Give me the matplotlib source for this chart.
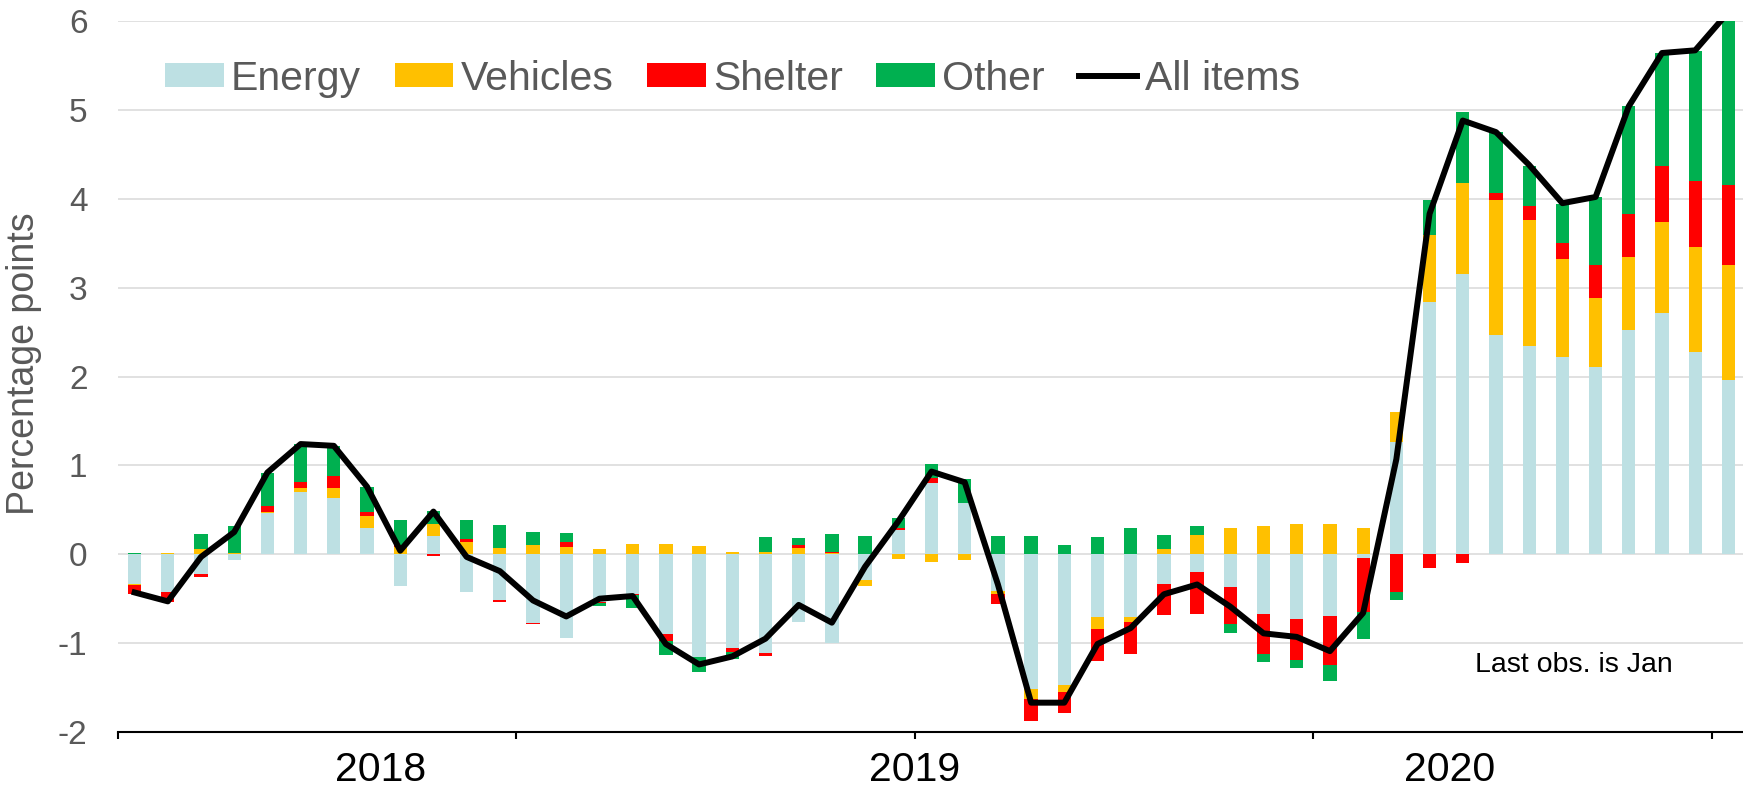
import numpy as np
import matplotlib
matplotlib.use("Agg")
import matplotlib.pyplot as plt

plt.rcParams['font.family'] = ['Liberation Sans', 'DejaVu Sans']
plt.rcParams['axes.unicode_minus'] = False

# contributions, percentage points, 49 months (last obs. Jan)
energy = [-0.33, -0.42, -0.22, -0.06, 0.46, 0.70, 0.63, 0.30, -0.36, 0.20,
          -0.43, -0.51, -0.775, -0.94, -0.54, -0.45, -0.895, -1.16, -1.05, -1.11,
          -0.76, -1.00, -0.29, 0.27, 0.805, 0.58, -0.41, -1.52, -1.47, -0.71,
          -0.71, -0.34, -0.20, -0.37, -0.67, -0.73, -0.69, -0.045, 1.26, 2.84,
          3.15, 2.47, 2.34, 2.22, 2.11, 2.52, 2.72, 2.275, 1.96]
vehicles = [-0.02, 0.01, 0.056, 0.01, 0.015, 0.05, 0.12, 0.13, 0.08, 0.14,
            0.135, 0.07, 0.105, 0.086, 0.06, 0.12, 0.11, 0.09, 0.026, 0.026,
            0.075, 0.01, -0.064, -0.05, -0.09, -0.06, -0.04, -0.11, -0.08, -0.135,
            -0.056, 0.056, 0.22, 0.29, 0.32, 0.34, 0.34, 0.29, 0.34, 0.75,
            1.03, 1.52, 1.42, 1.10, 0.775, 0.83, 1.02, 1.18, 1.29]
shelter = [-0.10, -0.12, -0.035, -0.01, 0.07, 0.06, 0.13, 0.045, 0.02, -0.015,
           0.04, -0.03, -0.01, 0.05, -0.01, -0.01, -0.086, 0.005, -0.05, -0.04,
           0.034, 0.02, 0.0, 0.03, 0.05, 0.0, -0.105, -0.25, -0.24, -0.36,
           -0.36, -0.34, -0.47, -0.42, -0.45, -0.46, -0.56, -0.61, -0.43, -0.16,
           -0.10, 0.075, 0.16, 0.18, 0.37, 0.48, 0.63, 0.75, 0.91]
other = [0.015, 0.0, 0.17, 0.31, 0.37, 0.43, 0.34, 0.28, 0.28, 0.15,
         0.21, 0.26, 0.15, 0.10, -0.03, -0.15, -0.15, -0.17, -0.08, 0.17,
         0.07, 0.195, 0.21, 0.11, 0.16, 0.27, 0.21, 0.21, 0.105, 0.19,
         0.29, 0.165, 0.10, -0.10, -0.09, -0.086, -0.18, -0.30, -0.086, 0.40,
         0.80, 0.69, 0.45, 0.44, 0.76, 1.21, 1.27, 1.46, 1.94]
all_items = [-0.43, -0.53, -0.03, 0.25, 0.92, 1.24, 1.22, 0.76, 0.04, 0.48,
             -0.03, -0.19, -0.52, -0.70, -0.50, -0.47, -1.01, -1.24, -1.15, -0.95,
             -0.57, -0.77, -0.14, 0.37, 0.93, 0.81, -0.34, -1.67, -1.67, -1.01,
             -0.83, -0.45, -0.34, -0.59, -0.89, -0.93, -1.09, -0.66, 1.07, 3.83,
             4.88, 4.75, 4.38, 3.95, 4.02, 5.04, 5.64, 5.67, 6.10]

series = [("Energy", energy, "#BDE0E3"),
          ("Vehicles", vehicles, "#FFC000"),
          ("Shelter", shelter, "#FF0000"),
          ("Other", other, "#00B050")]

year_labels = ["2018", "2019", "2020"]
year_pos = [7.4, 23.5, 39.6]

W, H = 1743, 807
fig = plt.figure(figsize=(W / 100, H / 100), dpi=100)
ax = fig.add_axes([118 / W, 75 / H, 1627 / W, 711 / H])

x = np.arange(len(all_items))
pos_base = np.zeros(len(x))
neg_base = np.zeros(len(x))
for name, vals, col in series:
    v = np.array(vals)
    bottom = np.where(v >= 0, pos_base, neg_base)
    ax.bar(x, v, 0.4, bottom=bottom, color=col, label=name, zorder=2)
    pos_base += np.where(v >= 0, v, 0)
    neg_base += np.where(v < 0, v, 0)

ax.plot(x, all_items, color='black', lw=4.3, solid_joinstyle='round',
        label='All items', zorder=3)

ax.set_xlim(-0.5, 48.5)
ax.set_ylim(-2, 6)
ax.set_yticks(range(-2, 7))
ax.tick_params(axis='y', length=0, pad=22, labelsize=24, labelcolor='#595959')
for yv in range(-1, 7):
    ax.axhline(yv, color='#D9D9D9', lw=1.1, zorder=1)

ax.xaxis.remove_overlapping_locs = False
ax.set_xticks([-0.5, 11.5, 23.5, 35.5, 47.5])
ax.set_xticklabels([])
ax.tick_params(axis='x', which='major', direction='out', length=5, width=1.5)
ax.set_xticks(year_pos, minor=True)
ax.set_xticklabels(year_labels, minor=True)
ax.tick_params(axis='x', which='minor', length=0, pad=14, labelsize=29.5)

for s in ['top', 'right', 'left']:
    ax.spines[s].set_visible(False)
ax.spines['bottom'].set_linewidth(1.5)

ax.set_ylabel("Percentage points", fontsize=27, color='#595959')
ax.yaxis.set_label_coords(-0.047, 0.518)

fig.text(1475 / W, 1 - 672 / H, "Last obs. is Jan", fontsize=20.5,
         va='baseline', ha='left')

handles, labels = ax.get_legend_handles_labels()
order = [1, 2, 3, 4, 0]
ax.legend([handles[i] for i in order], [labels[i] for i in order],
          loc='center left', bbox_to_anchor=(165 / W, 1 - 78.5 / H),
          bbox_transform=fig.transFigure, ncol=5, frameon=False, fontsize=29.5,
          labelcolor='#595959', borderpad=0, handlelength=1.43, handleheight=0.52,
          handletextpad=0.18, columnspacing=0.82, borderaxespad=0)

fig.savefig("out.png", dpi=100)
